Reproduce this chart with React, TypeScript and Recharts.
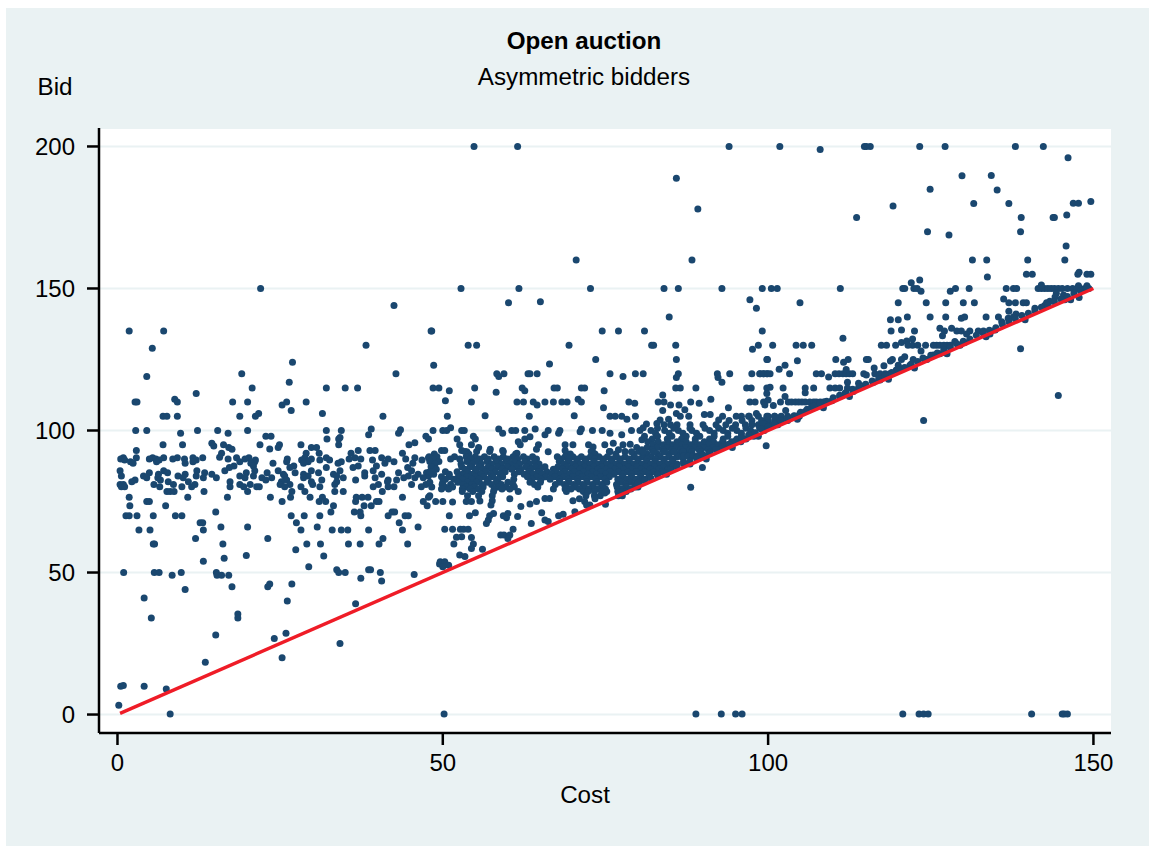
import { ScatterChart, Scatter, XAxis, YAxis, CartesianGrid } from 'recharts';

// Open auction: bid against cost, asymmetric bidders.
// All points as [cost, bid].
type Pt = number[];

const xTicks = [0, 50, 100, 150];
const yTicks = [0, 50, 100, 150, 200];

const NAVY = '#1a476f';
const RED = '#ef1c27';
const PAGE = '#eaf2f3';
const FONT = '"Liberation Sans", Arial, sans-serif';

const diagonal: Pt[] = [[0.4, 0.4], [150, 150]];

const zeroBids: Pt[] = [
  [8.1, 0.2], [50.2, 0.2], [88.9, 0.2], [92.8, 0.2], [95, 0.2], [96, 0.2], [120.7, 0.2], [123.2, 0.2],
  [123.9, 0.2], [124.6, 0.2], [140.5, 0.2], [145.2, 0.2], [145.5, 0.2], [146, 0.2],
];

const lowLeft: Pt[] = [
  [0.5, 10], [0.9, 10.2], [4.1, 10], [7.5, 9], [0.2, 3.3], [13.5, 18.4], [15.1, 28], [18.5, 35.4], [18.5, 34],
  [25.9, 28.6], [24.1, 26.8], [25.3, 20], [34.2, 25], [36.6, 39], [26.1, 40], [4.1, 41], [5.2, 34], [10.4, 44],
  [0.95, 50], [5.66, 50], [6.4, 50], [8.4, 49], [9.8, 50], [15.2, 50], [15.3, 49], [16, 49], [17.1, 49],
  [17.6, 45], [23.1, 45], [23.4, 46], [26.8, 46], [29.4, 52], [33.7, 51], [34, 50], [35, 50], [37.4, 48],
  [38.6, 51], [38.9, 51], [40.4, 50], [40.6, 47], [45.6, 49.3], [49.5, 53], [13.2, 54], [16.4, 55], [19.8, 56],
  [31.7, 55.8], [27.4, 58],
];

const leftBandUpper: Pt[] = [
  [1.8, 135], [7.1, 135], [5.35, 129], [38.2, 130], [4.5, 119], [26.9, 124], [19.1, 120], [42.8, 120], [26.4, 117],
  [20.7, 115], [32.1, 115], [35, 115], [36.9, 115], [12.1, 113], [8.8, 111], [9.2, 110], [2.7, 110], [3, 110],
  [17.7, 110], [20, 110], [25.3, 109], [26, 110], [29, 110], [26.7, 107], [31.5, 106], [21.7, 106], [21.2, 105],
  [18.8, 105], [7, 105], [7.6, 105], [9.2, 105], [40.8, 105], [2.8, 100], [4.5, 100], [12.3, 100], [15.4, 100],
  [20, 100], [32.1, 100], [34.4, 100], [39, 100.5], [38.6, 98.5], [43.5, 100.3], [43.2, 99], [9.7, 99], [17, 99],
  [22.8, 98], [23.6, 98], [32.2, 97], [34.2, 97.5], [34, 97], [47.4, 98], [47.8, 97], [7, 95], [10, 95], [14.5, 95.5],
  [14.8, 94.5], [16.3, 95], [21.9, 95], [24.9, 95], [24.7, 94], [28.2, 95], [34, 95], [44.8, 95], [45.7, 95.7],
  [2.9, 93], [17.1, 94], [17.6, 93.4], [23.4, 93.5], [29.8, 94], [30.6, 94], [37, 93], [38.8, 93], [39.6, 93],
  [16, 92], [15.7, 90.6], [29, 92], [31, 92], [35.9, 92], [43.8, 92], [48.2, 135], [22, 150], [42.5, 144],
];

// rows are [bid, cost, cost, ...]
const leftBandRows: Pt[] = [
  [90.4, 0.9, 2.9, 5.4, 7.1, 9.2, 11.6, 13.1, 18.3, 20.2, 28.8, 32.1, 36.5, 40.6, 45.7, 47.8],
  [90, 0.5, 4.9, 5.9, 8.5, 10.3, 17, 19.6, 26.1, 29.8, 35.6, 37.4, 41.6, 44.3],
  [89.6, 1.1, 6.4, 12.1, 21.2, 28.3, 31.1, 32.6, 39.2, 46.8],
  [89, 2, 6, 11.6, 18.8, 21.1, 26, 29.3, 34.4, 42.5],
  [88.5, 2.4, 10.4, 20.5, 23.9, 28.6, 33.9, 41.1, 45.4],
  [87.5, 17.9, 20.9, 27.1, 39.8, 37],
  [87, 17.2, 26.5, 32.1, 36.2, 44.6],
  [85.8, 0.4, 7.1, 12.2, 16.5, 21.1, 24.7, 29.8, 34.2, 39.3, 45.2],
  [85.1, 4.9, 7.7, 13.4, 19.8, 23, 27.3, 30.9, 38, 43.2, 47.5],
  [84.6, 6.3, 10.4, 14.5, 25.5, 28.6, 33.2, 40.6, 46.2],
  [84, 0.6, 4, 9.3, 12.1, 18.8, 20.9, 25.7, 29.3, 33.7, 38, 44.7, 47.8],
  [83.4, 4.5, 6.2, 10.1, 13.2, 15.2, 19.6, 22.2, 23.7, 28.6, 34.7, 39.6, 44, 45.7, 47],
  [82.6, 2.7, 6.6, 22.8, 26, 31.4, 36.6, 41.6, 42.9],
  [82, 2.2, 7.8, 10.9, 17.3, 25.2, 29.8, 33.7, 41.5],
  [81, 0.4, 0.9, 5.6, 8.6, 11.9, 18.8, 20.4, 25, 26.5, 30, 33.4, 40.1, 45.2, 47.4],
  [80.2, 0.6, 1.1, 6.5, 9.9, 11.4, 17.3, 19.4, 21.4, 21.8, 25.7, 28.2, 31.1, 39.3, 41.6, 42.5, 46.7],
  [78.5, 7.6, 8.1, 8.7, 13.3, 20, 26.8, 28.8, 33.4, 34.7, 40.7],
  [76.5, 1.8, 10.8, 16.9, 23.5, 26.6, 29.6, 31.5, 36.7, 37.6, 38.5, 43.8, 47.8],
  [75, 4.5, 4.9, 25.3, 31, 32, 36.6, 39.8, 40.2, 47],
  [73.5, 1.9, 7.4, 33.2, 37.9, 39, 47.6],
  [70, 1.3, 1.8, 3, 5.5, 8.9, 9.9, 26.7, 28.7, 31.1, 37.4, 41.6, 44.2, 44.7],
  [71.3, 15.1, 32.8, 36.4, 37.3, 42.2, 42.6],
  [66, 15.9, 20, 30.7, 46.2],
  [67.5, 12.7, 13.1, 27.5, 43.3],
  [65, 13.2, 3.3, 5, 28.2, 33, 34.4, 35.4, 38.6, 43.8],
  [60, 5.7, 5.5, 16.2, 29.1, 31.2, 35.5, 37.3, 40.2, 44.6],
  [62, 12, 23.1, 40.8],
];

const upperOutliers: Pt[] = [
  [54.8, 200], [61.5, 200], [94, 200], [85.9, 188.8], [89.2, 178], [70.5, 160], [88.3, 160], [52.8, 150], [61.7, 150],
  [72.7, 150], [84, 150], [86.2, 150], [92.9, 150], [99.1, 150], [100.5, 150], [101.4, 150], [60.1, 145], [65, 145.3],
  [97.2, 146], [98.2, 143], [84.8, 140], [48.3, 135], [74.5, 135], [77, 135], [81, 135], [99.1, 135], [53.9, 130],
  [55.2, 130], [69.4, 130], [82.1, 130], [82.4, 130], [85.8, 130], [98.5, 130], [97.6, 128.6], [48.6, 123], [66.4, 123.4],
  [73.5, 125], [85.9, 125], [99.8, 125], [58.3, 120], [58.6, 119], [59.4, 120], [63.1, 120], [63.4, 120], [64.5, 120],
  [75.7, 120], [77.7, 119], [79.6, 120], [80.8, 120], [86.2, 120], [85.9, 118.7], [92.2, 120], [92.3, 118.7], [92.9, 117],
  [94.1, 120], [97.5, 120], [98.8, 120], [99.3, 120], [99.8, 120], [48.5, 115], [49.4, 115], [54.9, 115], [62.2, 115],
  [62.6, 114], [67.1, 115], [67.6, 115], [71.3, 115], [71.8, 115], [85.8, 115], [86.5, 115], [88.9, 115], [96.7, 115],
  [97.4, 115], [99.8, 115], [51, 114], [58.2, 113.5], [74.8, 114], [83.8, 112.5], [50.4, 110.5], [54.4, 110], [61.4, 110],
  [62.4, 110], [63.9, 110], [64.5, 109], [65.7, 110], [67, 110], [68.3, 110], [69.1, 110], [70.8, 111], [71.3, 110],
  [78.6, 110], [79.5, 109.6], [83.1, 110], [84, 110], [85, 109], [86.3, 109], [88.1, 110], [89.4, 109.6], [91.2, 111],
  [97.2, 110], [98, 110], [99.3, 110], [100, 110.7], [74.7, 108], [83.8, 107], [87.2, 107.3], [93.9, 108], [50.7, 105],
  [56.5, 105.2], [63.3, 105], [70.2, 105.2], [75.7, 105], [76.5, 105], [77.5, 105], [78.3, 104], [79.6, 105], [85.9, 106],
  [86.5, 105], [87.8, 105], [90.2, 105.6], [91.1, 105.6], [93, 105], [95.1, 105], [95.9, 105], [97.1, 105], [98.2, 106],
  [83.4, 103.7], [84.7, 104], [82.9, 102.5], [81.3, 102.3], [92.4, 103.7], [99.8, 104],
];

const midUpperBand: Pt[] = [
  [48.5, 100], [50, 100], [50.6, 100], [51.2, 101], [52.9, 100], [53.3, 100], [58.6, 100.5], [59.2, 99], [60.6, 100],
  [61.2, 100], [62.6, 100], [64.2, 100.5], [66.2, 100], [65.7, 98.5], [68, 100], [67.8, 99], [71.3, 100.5], [71.1, 99.6],
  [73, 100], [74.5, 100], [75.7, 99], [77.5, 98.5], [79, 100], [80.3, 100], [80.8, 101], [54.7, 98], [55, 97], [52.2, 97],
  [61.6, 96], [61.9, 95], [62.6, 97], [63.4, 97.8], [52.6, 95], [54.4, 95], [55.5, 94], [64.7, 95], [64.4, 93.4],
  [68.8, 95], [70, 95], [72.4, 95], [73.1, 94.2], [74.9, 95], [76.2, 95.5], [77.7, 95], [78.8, 95.2], [80.6, 96.7],
  [49.8, 93], [50.3, 93], [52.9, 93], [53.7, 92.5], [57.3, 93.4], [59.2, 93], [61.4, 92], [66.2, 92.5], [68.8, 93],
  [73.1, 92.2], [75.7, 92.6], [77, 93.2],
];

const midBandRows: Pt[] = [
  [92.6, 53.4, 55.2, 57.2, 59.3, 72.8, 75.6, 78, 80.2, 82.4, 84, 85.6, 87.3],
  [91.7, 48.7, 54, 61.2, 69, 69.6, 73.4, 76.6, 79.4, 81.4, 83, 84.8, 86.4, 88],
  [90.8, 47.9, 49.1, 51.8, 53.6, 55, 56.4, 57.9, 59.3, 60.8, 62.4, 63.8, 67.6, 68.8, 70, 71.3, 72.7, 74, 75.3, 76.7, 78, 79.4, 80.7, 82, 83.4, 84.7, 86, 86.7],
  [90, 48.5, 51.2, 52.6, 54.3, 55.7, 57, 58.6, 60, 61.5, 63, 64.4, 68.2, 69.4, 70.7, 72, 73.3, 74.7, 76, 77.3, 78.7, 80, 81.4, 82.7, 84, 85.4],
  [89.1, 48, 49.4, 53.7, 55.2, 56.8, 58.2, 59.7, 61, 62.6, 64.1, 67.9, 69.3, 70.6, 71.9, 73.2, 74.6, 75.9, 77.2, 78.6, 80, 81.3, 82.6, 84, 85.3, 87],
  [88.2, 48.8, 52.8, 54.5, 55.9, 57.5, 59, 60.3, 61.8, 63.3, 64.8, 68.6, 70, 71.2, 72.6, 73.9, 75.2, 76.6, 77.9, 79.3, 80.6, 82, 83.3, 84.6, 86, 88],
  [87.2, 48.2, 52.9, 54.2, 55.6, 57, 58.4, 59.9, 61.2, 62.8, 64.2, 65.7, 67.7, 69.1, 70.4, 71.8, 73.2, 74.4, 75.8, 77.1, 78.5, 79.8, 81.2, 82.5, 83.9, 85.3],
  [86.4, 49, 53.4, 55, 56.2, 57.6, 59.1, 60.6, 62, 63.5, 65, 67, 68.4, 69.8, 71.1, 72.5, 73.8, 75.1, 76.5, 77.8, 79.1, 80.5, 81.9, 83.2, 84.6],
  [85.5, 48, 50.4, 52.2, 53.8, 55.2, 56.6, 58.1, 59.6, 61.7, 63.2, 64.6, 66, 67.4, 68.8, 70.2, 71.6, 73, 74.3, 75.7, 77, 78.4, 79.7, 81, 82.4, 83.7],
  [84.6, 48.6, 51, 53, 54.5, 55.9, 57.4, 58.8, 61, 62.5, 63.9, 65.3, 66.7, 68.1, 69.5, 70.9, 72.3, 73.6, 75, 76.3, 77.7, 79, 80.4, 81.7, 83, 84.4],
  [83.7, 49.8, 51, 52.4, 53.7, 55, 56.3, 57.7, 59.2, 63, 64.4, 65.8, 67.2, 68.6, 70, 71.4, 72.8, 74.2, 75.6, 77.6, 79, 80.4, 81.7],
  [82.8, 50.4, 51.7, 53, 54.4, 55.6, 57, 58.5, 60.9, 63.7, 65.1, 66.5, 67.9, 69.3, 70.7, 72.1, 73.5, 74.9, 76.9, 78.3, 79.7, 81],
  [81.8, 48, 50, 52.3, 53.8, 55.2, 56.8, 58.2, 60, 63.4, 65, 68, 69.4, 70.8, 72.2, 73.7, 75.2, 77.4, 78.8, 80.2],
  [81, 49.9, 51.2, 53.1, 54.5, 56, 57.5, 59, 60.8, 64.1, 67.3, 68.7, 70.1, 71.5, 73, 74.4, 76.7, 78.1, 79.5],
  [80.1, 48.3, 50.3, 51.5, 53.6, 54.9, 56.2, 58.5, 59.7, 61, 64.6, 69, 70.4, 71.7, 73.1, 74.6, 76.8, 78.2, 79.6, 80],
  [79.4, 49.8, 50.9, 53, 54.2, 55.5, 57.9, 59.1, 60.3, 67, 68.8, 69.7, 71, 72.4, 73.8, 75, 77.5, 78.9],
  [78.5, 53, 54.6, 56, 57.8, 61.6, 69, 71.6, 72.3, 73.3, 74.4, 75.2, 76.9, 77.6, 78.2],
  [77, 48, 53.8, 55.5, 57.6, 72, 73.3, 74.2, 77, 77.6],
];

const midLower: Pt[] = [
  [48.9, 75], [50, 75], [51.5, 74.8], [53.6, 75], [54.4, 75], [55.7, 75.2], [57.6, 75.3], [57.4, 73.8], [60.3, 76],
  [63.4, 74.1], [64.4, 75], [65.7, 76.1], [66.4, 76.1], [70, 75.3], [71, 76], [71.8, 75], [72.6, 73.8], [72.1, 73.8],
  [73.4, 76], [74.9, 78], [75, 74], [51, 70], [54.1, 70], [55, 71], [57.2, 70], [57.8, 70.8], [56.7, 67.3], [57, 68.5],
  [59.3, 70], [60, 70.8], [59.8, 69.3], [61.5, 69.7], [62, 73.2], [65.2, 71], [67.8, 70], [68.5, 70.5], [70.3, 71.4],
  [50.3, 65.2], [51.5, 65.2], [52.7, 65.2], [53.2, 65.2], [53.9, 65.2], [54.4, 62.3], [52.9, 62.6], [52.1, 62.4],
  [51.7, 60], [54.7, 60], [54.4, 58.5], [60.8, 65.2], [63.6, 67.3], [65.7, 68.5], [66.2, 68], [58.9, 63.2], [59.4, 63.2],
  [60.3, 63.2], [60, 62], [56.1, 58.2], [52.6, 56.2], [53.4, 55.6], [49.6, 53.8], [50.3, 53.8], [50.9, 52.6], [50, 52],
];

const denseRightRows: Pt[] = [
  [105, 97, 98.5, 100, 101, 102, 103, 104, 104.8],
  [103.5, 94, 96, 97.5, 99, 100, 101, 102, 103],
  [102, 84, 85, 86, 88, 90, 92, 93.5, 95, 96.5, 97.5, 98.5, 99.5, 100.5, 101.5],
  [100.8, 83, 85.5, 88, 90.3, 92.4, 94.5, 96.6, 98.7],
  [100, 82, 84.1, 86.2, 88.3, 91, 93.1, 95.2, 97.3, 99.4],
  [99, 82.7, 84.8, 86.9, 89, 91.7, 93.8, 95.9, 98],
  [98, 81, 83, 85.2, 87.4, 89.5, 91.7, 93.8, 95.9, 97.8],
  [97, 82.2, 84.5, 86.7, 88.8, 91, 93.1, 95.2, 96.6],
  [96, 81.5, 83.1, 84.6, 86, 87.4, 88.8, 90.2, 91.6, 93, 94.4, 95.8],
  [95, 82.3, 83.9, 85.3, 86.7, 88.1, 89.5, 90.9, 92.3, 93.7, 94.4],
  [94, 79.8, 81.4, 83, 84.5, 85.9, 87.3, 88.7, 90.1, 91.5, 92.9],
  [93.2, 80.6, 82.2, 83.8, 85.2, 86.6, 88, 89.4, 90.8, 92.2],
  [92.5, 79, 80.8, 82.4, 84, 85.5, 86.9, 88.3, 89.7, 91.1],
  [91, 87, 87.7, 88.4, 89.1, 89.8, 90.4],
];

const rightLower: Pt[] = [
  [99.7, 94.6], [89.9, 87], [88.1, 80], [123.9, 103.5], [144.6, 112.3], [138.8, 128.8],
  [99.8, 105], [101.8, 103.7], [103, 104.3], [104.4, 105], [104.9, 106], [105.7, 106.7], [99.2, 102.5], [101, 105],
  [102.7, 107], [100.8, 108.8], [99.5, 109], [101.9, 110], [102.6, 112], [99.8, 113], [100.3, 115.2], [102.3, 115],
  [105.7, 115], [105.7, 113.3], [107, 115], [103.1, 110], [103.6, 110], [104.2, 110], [104.7, 110], [105.2, 110],
  [105.7, 110], [106.4, 110], [107, 110], [107.4, 110], [108, 110], [108.5, 110], [108.7, 110], [106.7, 108.4],
  [107.5, 108.4], [109.8, 110.5], [111, 112], [111.8, 113], [113.1, 113.7], [109.5, 115], [110.3, 115], [111, 115],
  [112.2, 117], [112.2, 115], [113.9, 116.6], [113.9, 115], [114.9, 116], [116.2, 117], [117.2, 117.8], [118.2, 118.7],
  [102.6, 123], [101.7, 121.6], [103.3, 120], [98.7, 120], [99.3, 120], [99.9, 120], [100.3, 120], [107.4, 120],
  [108.2, 120], [109.3, 118.8], [110.3, 120], [110.9, 120], [111.5, 120], [112, 120], [112.5, 120], [112, 121.5], [113, 120],
  [114.7, 120], [115.1, 119.5], [116.3, 122], [117.8, 122.8], [116.4, 120], [117.2, 120], [118, 120], [118.7, 120],
  [119.7, 121.3], [120.8, 121.9], [121.8, 123],
];

const rightUpper: Pt[] = [
  [101.8, 200], [108, 198.9], [114.8, 200], [115.1, 200], [115.7, 200], [123.3, 200], [127.2, 200], [138, 200], [142.3, 200],
  [146.1, 196], [129.8, 189.7], [134.3, 189.8], [124.9, 184.9], [135.2, 184.7], [131.6, 179.9], [137, 179.9], [149.6, 180.6],
  [146.9, 180], [147.7, 180], [119.2, 179], [113.6, 175], [138.9, 175], [143.8, 175], [144, 175], [145.9, 175.9], [124.5, 170],
  [127.8, 168.8], [138.8, 170], [145.8, 165], [131.4, 160], [133.6, 160], [139.9, 160], [145.6, 160], [133.7, 154], [139.7, 155],
  [140.6, 155], [147.6, 155], [147.8, 155.7], [149, 155], [149.6, 155], [123.3, 153], [122, 152], [122.4, 150], [122.9, 150],
  [123.5, 149], [120.7, 150], [121, 150], [128, 149], [128.8, 150], [130.9, 150], [136.6, 150], [137.7, 150], [138.2, 150],
  [141.5, 150], [142, 150], [142.5, 150], [143, 150], [143.5, 150], [144, 150], [144.6, 150], [145.2, 150], [146, 150],
  [146.8, 150], [147.5, 150], [148, 150], [148.7, 150], [149.3, 150], [142, 151.2], [147.7, 151], [149, 151], [144.3, 148.3],
  [144.1, 147], [145.4, 147.7], [145.6, 146], [147.8, 146.8], [111.1, 150], [104.9, 145], [120, 145], [124.3, 145], [127.3, 145],
  [130, 145], [131.7, 145], [136.2, 146.3], [137, 145], [138, 145], [139.2, 145], [139.7, 145], [142.8, 145], [143.3, 145.5],
  [141, 143], [142.5, 144], [118.8, 139], [120, 139], [121.4, 140], [124.9, 140], [127.3, 140], [129.7, 139.5], [130.2, 140],
  [133.5, 140], [135.4, 140], [137, 142], [138.1, 141], [135.9, 138.3], [136.9, 139.5], [137.7, 140], [118.9, 135], [120.5, 135.4],
  [122.5, 135], [126.4, 136], [127.1, 135], [128.2, 136], [129, 135], [129.7, 135], [131, 135], [132.3, 135], [133.1, 135],
  [126.8, 133.4], [130.5, 134], [134.1, 134], [134.9, 135.4], [122.2, 132.2], [111.5, 132.5], [128.7, 131.3], [100.7, 130],
  [104.3, 130], [105.4, 130], [106.7, 130], [117.4, 130], [118.2, 130], [119.6, 130], [120.5, 131], [121.3, 131.5], [121.5, 130],
  [122.2, 130], [123, 130], [124.2, 130], [125.4, 130], [125.9, 130], [126.4, 130], [127, 130], [127.5, 130], [128, 130],
  [129.5, 130], [130.2, 131], [123.5, 128], [99.9, 125], [104.5, 124.6], [110.4, 125], [111.6, 124], [112.3, 125], [115.1, 125],
  [115.4, 125], [119.1, 125], [118.8, 124.5], [121, 126], [120.5, 125], [122.3, 125], [120, 123], [123.8, 125.5], [125.4, 126.6],
  [126.4, 127], [127.2, 127.4], [124.4, 125],
];

const alongLine: Pt[] = [
  [80, 81.5], [81, 82.4], [82, 83.2], [83, 84.3], [84, 85.2], [85, 86.3], [86, 87.2], [87, 88.3], [88, 89.2], [89, 90.3], [90, 91.4],
  [91, 92.2], [92, 93.3], [93, 94.4], [94, 95.2], [95, 96.3], [96, 97.3], [97, 98.4], [98, 99.2], [99, 100.4], [100, 101.3], [101, 102.2],
  [102, 103.4], [103, 104.3], [104, 105.2], [105, 106.4], [106, 107.5], [107, 108.5], [108, 109.6], [109, 110.3], [110, 111.5],
  [111, 112.4], [112, 113.5], [113, 114.5], [114, 115.3], [115, 116.3], [116, 117.4], [117, 118.3], [118, 119.2], [119, 120.4],
  [120, 121.3], [121, 122.2], [122, 123.4], [123, 124.3], [124, 125.2], [125, 126.5], [126, 127.3], [127, 128.4], [128, 129.2],
  [129, 130.5], [130, 131.4], [131, 132.2], [132, 133.5], [133, 134.4], [134, 135.3], [135, 136.2], [136, 137.4], [137, 138.3],
  [138, 139.3], [139, 140.5], [140, 141.3], [141, 142.2], [142, 143.4], [143, 144.2], [144, 145.3], [145, 146.3], [146, 147.2],
  [147, 148.3], [148, 149.2], [149, 150], [108.5, 108], [112.5, 112], [118.5, 118], [122.5, 122], [127.5, 127], [133.5, 133],
  [139.5, 139], [146.5, 146], [104.5, 104], [98.5, 98], [94.5, 94], [90.5, 90],
];

const fromRows = (rows: Pt[]) => rows.flatMap(([bid, ...costs]) => costs.map((cost) => [cost, bid]));

const points = [
  ...zeroBids, ...lowLeft, ...leftBandUpper, ...fromRows(leftBandRows), ...upperOutliers, ...midUpperBand,
  ...fromRows(midBandRows), ...midLower, ...fromRows(denseRightRows), ...rightLower, ...rightUpper, ...alongLine,
].map(([cost, bid]) => ({ cost, bid }));

const lineData = diagonal.map(([cost, bid]) => ({ cost, bid }));

const Dot = (props: any) => <circle cx={props.cx} cy={props.cy} r={3.5} fill={NAVY} />;

const tickStyle = { fill: '#000', fontSize: 24, fontFamily: FONT };

function Text({ x, y, bold, children }: any) {
  return (
    <div style={{ position: 'absolute', left: x, top: y, transform: 'translate(-50%, -50%)', whiteSpace: 'nowrap',
      fontFamily: FONT, fontSize: 24.2, fontWeight: bold ? 700 : 400, color: '#000' }}>
      {children}
    </div>
  );
}

export default function App() {
  return (
    <div style={{ position: 'absolute', left: 0, top: 0, width: 1149, height: 846, background: '#fff', overflow: 'hidden' }}>
      <div style={{ position: 'absolute', left: 6, top: 8, right: 0, bottom: 0, background: PAGE }} />
      <div style={{ position: 'absolute', left: 0, top: 0 }}>
        <ScatterChart width={1149} height={846} margin={{ top: 128, right: 38, bottom: 0, left: 0 }}>
          <CartesianGrid vertical={false} fill="#fff" stroke={PAGE} strokeWidth={2} />
          <XAxis
            type="number"
            dataKey="cost"
            domain={[-2.84, 152.7]}
            ticks={xTicks}
            allowDataOverflow
            height={113}
            stroke="#000"
            strokeWidth={2.5}
            tickSize={12}
            tick={tickStyle}
            tickMargin={9}
            interval={0}
          />
          <YAxis
            type="number"
            dataKey="bid"
            domain={[-6.5, 206.5]}
            ticks={yTicks}
            allowDataOverflow
            width={99}
            stroke="#000"
            strokeWidth={2.5}
            tickSize={12}
            tick={tickStyle}
            tickMargin={12}
            interval={0}
          />
          <Scatter data={points} shape={Dot} isAnimationActive={false} />
          <Scatter data={lineData} line={{ stroke: RED, strokeWidth: 3.4 }} shape={() => null} isAnimationActive={false} />
        </ScatterChart>
      </div>
      <Text x={584} y={41} bold>Open auction</Text>
      <Text x={584} y={77}>Asymmetric bidders</Text>
      <Text x={55} y={87}>Bid</Text>
      <Text x={585} y={795}>Cost</Text>
    </div>
  );
}
